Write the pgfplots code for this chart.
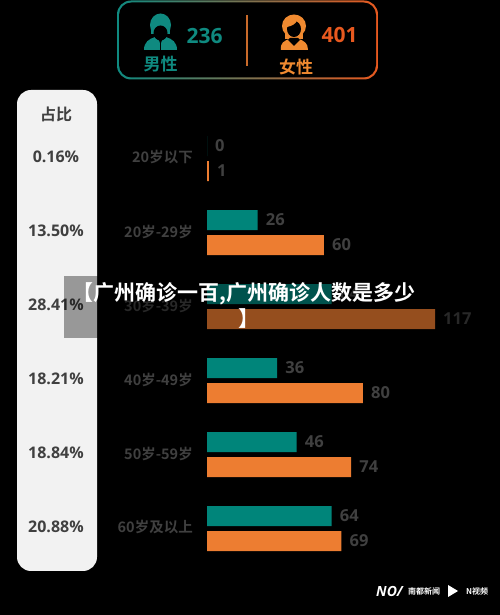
\documentclass[border=0pt]{standalone}
\usepackage{fontspec}
\usepackage{pgfplots}
\pgfplotsset{compat=1.18}
\setmainfont{Noto Sans CJK SC}[BoldFont={Noto Sans CJK SC Bold}]
\newfontfamily\osb{Open Sans}[BoldFont={Open Sans Bold}]
\definecolor{teal1}{HTML}{00857A}
\definecolor{orange1}{HTML}{ED7D31}
\definecolor{txt}{HTML}{404040}
\definecolor{tealT}{HTML}{0F8A80}
\definecolor{redT}{HTML}{E8591F}
\definecolor{orT}{HTML}{F08A30}
\newcommand{\fs}[1]{\fontsize{#1pt}{#1pt}\selectfont\bfseries}
\begin{document}
\begin{tikzpicture}[x=1pt,y=1pt]
\path[use as bounding box,fill=black] (0,0) rectangle (500,615);
\begin{scope}[y=-1pt,shift={(0pt,615pt)}]
  % top box with gradient stroke
  \fill[rounded corners=14pt,left color=tealT,right color=redT,middle color=tealT!50!redT] (117,0.5) rectangle (378,79.5);
  \fill[black,rounded corners=12.5pt] (119,2.5) rectangle (376,77.5);
  \draw[line width=1.2pt,color=orange1!85!black] (247,15) -- (247,66);
  % male icon
  \fill[tealT] (144,50) .. controls (144,42) and (149,39) .. (155,37) -- (166,37) .. controls (172,39) and (177,42) .. (177,50) -- cycle;
  \fill[tealT] (160.5,25) ellipse (10.5 and 11.5);
  \fill[tealT] (151,25) rectangle (170,34);
  \fill[black] (160.5,33) ellipse (7 and 7.5);
  \fill[tealT] (152,27) .. controls (155,23) and (166,23) .. (169,27) -- (169,20) -- (152,20) -- cycle;
  \fill[black] (158,38) -- (160.5,44) -- (163,38) -- cycle;
  \fill[black] (160,43) rectangle (161,50);
  % female icon
  \fill[orT] (281,50) .. controls (280,43) and (284,41) .. (289,39) -- (299,39) .. controls (304,41) and (308,43) .. (308,50) -- cycle;
  \fill[orT] (294,26) ellipse (12 and 11.5);
  \fill[orT] (285,30) rectangle (303,39);
  \fill[black] (294,29) ellipse (7 and 8);
  \fill[orT] (287,27) .. controls (292,26) and (296,24) .. (297,20) -- (288,18) -- cycle;
  \fill[black] (288,40) -- (294,46) -- (300,40) -- (298,38) -- (290,38) -- cycle;
  \node[text=tealT,font=\osb\fs{21},inner sep=0] at (204.5,36) {236};
  \node[text=redT,font=\osb\fs{21},inner sep=0] at (339.5,34.5) {401};
  \node[text=tealT,font=\fs{17},inner sep=0] at (160.5,64) {男性};
  \node[text=orT,font=\fs{17},inner sep=0] at (296,67) {女性};
  % share panel
  \fill[fill=white!95!black,rounded corners=14pt] (17,90) rectangle (97,571);
  \node[text=txt,font=\fs{16},inner sep=0] at (56,114) {占比};
  % logos
  \node[text=white,font=\osb\fs{14},inner sep=0,anchor=west] at (376,591) {\textit{NO/}};
  \node[text=white,font=\fs{8},inner sep=0,anchor=west] at (408,591) {南都新闻};
  \fill[white] (448,585) -- (458,591) -- (448,597) -- cycle;
  \node[text=white,font=\fs{8},inner sep=0,anchor=west] at (466,591) {N视频};
\end{scope}
\begin{axis}[
  at={(0pt,0pt)},anchor=south west,
  scale only axis,width=500pt,height=615pt,
  xmin=-106.21,xmax=150.33,
  ymin=-2.142,ymax=6.169,y dir=reverse,
  axis line style={draw=none},
  xtick=\empty,
  ytick={0,1,2,3,4,5},
  yticklabels={20岁以下,20岁-29岁,30岁-39岁,40岁-49岁,50岁-59岁,60岁及以上},
  major tick length=0pt,
  yticklabel style={anchor=east,xshift=193pt,yshift=1pt,inner sep=0pt,text=txt,font=\fs{14.5}},
  xbar,bar width=20pt,
  clip=false,
  /pgf/number format/assume math mode=true,
  nodes near coords,
  every node near coord/.append style={anchor=west,inner sep=0pt,xshift=8pt,text=txt,font=\osb\fs{16.5}},
]
\addplot[fill=teal1,draw=none,bar shift=12.5pt] coordinates {(0,0) (26,1) (64,2) (36,3) (46,4) (64,5)};
\addplot[fill=orange1,draw=none,bar shift=-12.5pt] coordinates {(1,0) (60,1) (117,2) (80,3) (74,4) (69,5)};
\foreach \p/\r in {0.16/0,13.50/1,28.41/2,18.21/3,18.84/4,20.88/5}{
  \edef\tmp{\noexpand\node[text=txt,font=\noexpand\osb\noexpand\fs{16},inner sep=0pt,yshift=1.5pt] at (axis cs:-77.5,\r) {\p\noexpand\%};}
  \tmp
}
\end{axis}
\begin{scope}[y=-1pt,shift={(0pt,615pt)}]
  \fill[black,opacity=0.37] (64,276) rectangle (500,338);
  \node[text=white,font=\fs{21},inner sep=0,anchor=west] at (72.5,293.5) {【广州确诊一百,广州确诊人数是多少};
  \node[text=white,font=\fs{21},inner sep=0,anchor=west] at (238.5,319) {】};
\end{scope}
\end{tikzpicture}
\end{document}
